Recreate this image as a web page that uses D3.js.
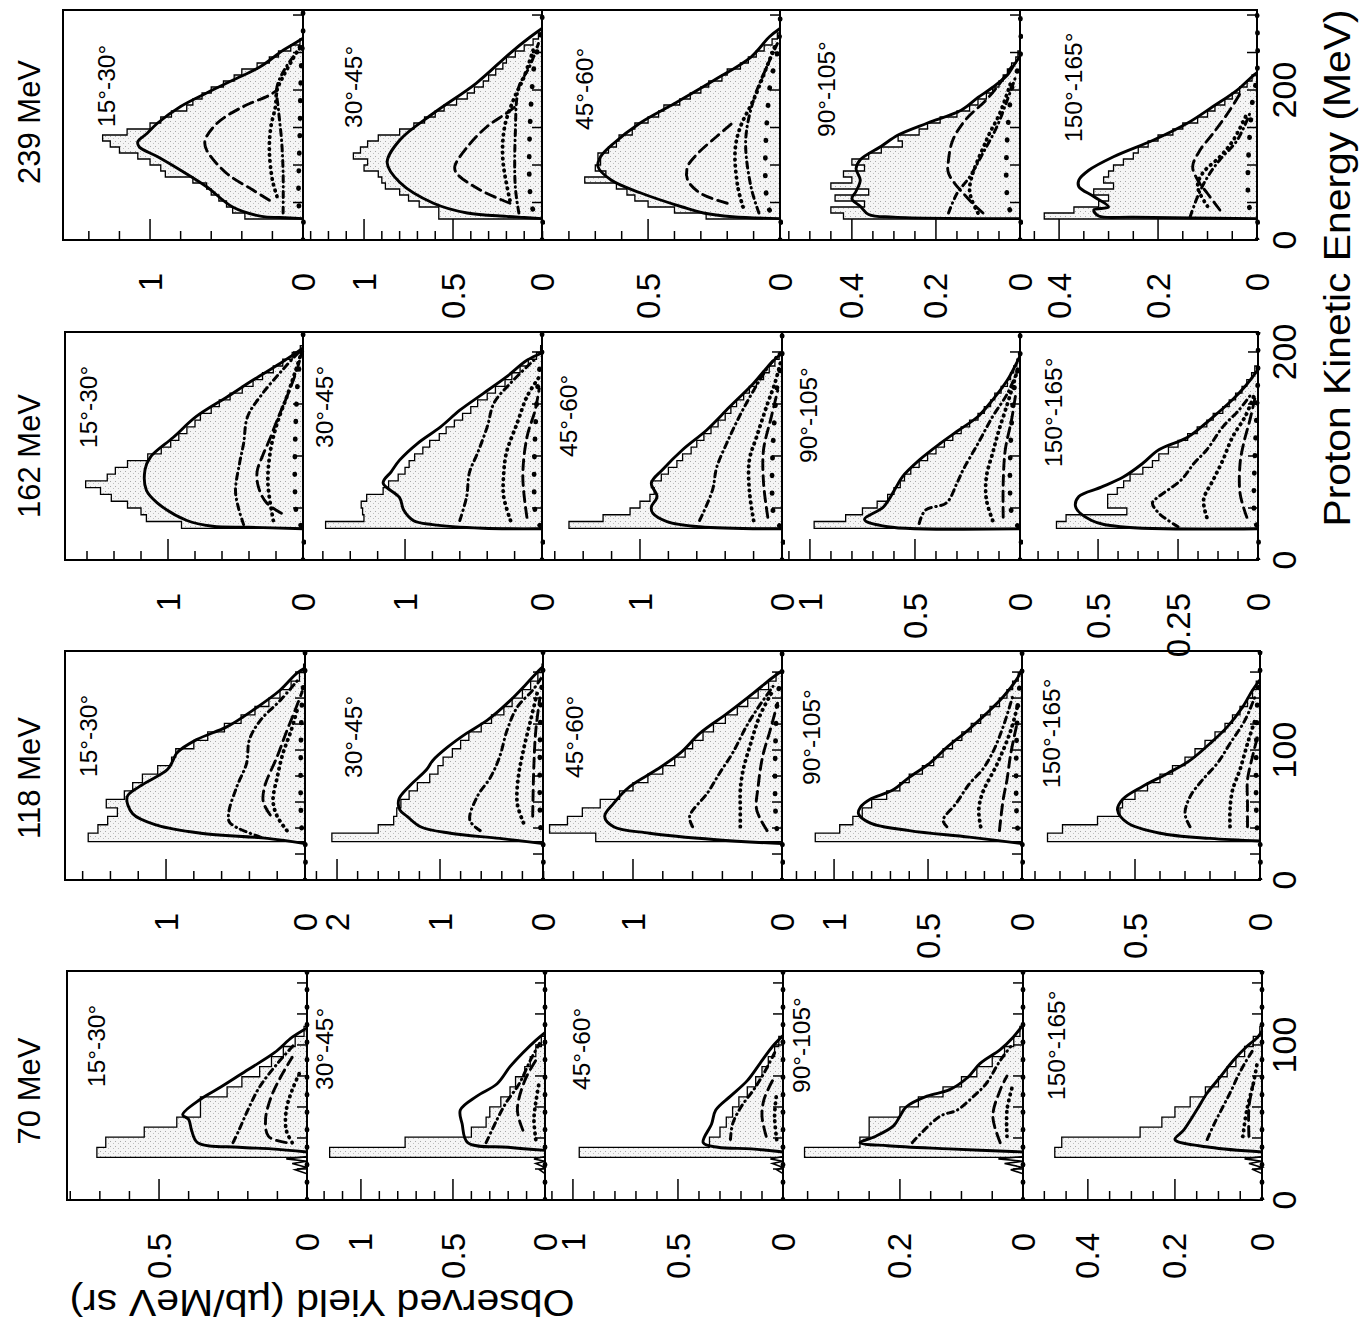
<!DOCTYPE html>
<html>
<head>
<meta charset="utf-8">
<script src="https://cdn.jsdelivr.net/npm/d3@7"></script>
<style>
  body { margin: 0; background: #fff; }
  svg { display: block; font-family: "Liberation Sans", Arial, sans-serif; }
</style>
</head>
<body>
<svg id="chart" width="1367" height="1324"></svg>
<script>
    // ---- data ----
    var beams = ['239 MeV', '162 MeV', '118 MeV', '70 MeV'];
    var angles = ['15°-30°', '30°-45°', '45°-60°', '90°-105°', '150°-165°'];

    // visible yield range of each panel (µb/MeV sr), its minor tick step and labelled ticks
    var yieldDomain = [
        [1.569, 1.343, 0.902, 0.571, 0.479],
        [1.763, 1.745, 1.69, 1.133, 0.744],
        [1.727, 2.311, 1.604, 1.277, 0.952],
        [0.811, 1.293, 1.133, 0.39, 0.549]
    ];
    var yieldStep = [
        [0.2, 0.1, 0.1, 0.05, 0.05],
        [0.2, 0.2, 0.2, 0.1, 0.0625],
        [0.2, 0.2, 0.2, 0.1, 0.1],
        [0.1, 0.1, 0.1, 0.05, 0.05]
    ];
    var yieldLabels = [
        [[1, 0], [1, 0.5, 0], [0.5, 0], [0.4, 0.2, 0], [0.4, 0.2, 0]],
        [[1, 0], [1, 0], [1, 0], [1, 0.5, 0], [0.5, 0.25, 0]],
        [[1, 0], [2, 1, 0], [1, 0], [1, 0.5, 0], [0.5, 0]],
        [[0.5, 0], [1, 0.5, 0], [1, 0.5, 0], [0.2, 0], [0.4, 0.2, 0]]
    ];

    // proton energy axis (MeV)
    var energyMax = [306.7, 219.2, 176.2, 147.7];
    var energyStep = [50, 50, 20, 20];
    var energyLabels = [[0, 200], [0, 200], [0, 100], [0, 100]];

    // histogram bins: first edge, width (MeV)
    var histStart = [28, 30.5, 29.5, 27.5];
    var histWidth = [8, 6.5, 6.5, 6.5];

    var hist239 = [
        [0.38, 0.46, 0.5, 0.55, 0.6, 0.63, 0.72, 0.9, 0.93, 1.0, 1.08, 1.2, 1.26, 1.31, 1.15, 1.0, 0.93, 0.86, 0.76, 0.72, 0.66, 0.6, 0.52, 0.45, 0.4, 0.3, 0.22, 0.16, 0.08, 0.02, 0],
        [0.58, 0.58, 0.69, 0.75, 0.8, 0.88, 0.9, 0.92, 1.0, 0.98, 1.06, 1.02, 0.98, 0.92, 0.8, 0.72, 0.66, 0.6, 0.55, 0.48, 0.42, 0.38, 0.33, 0.3, 0.26, 0.22, 0.2, 0.15, 0.1, 0.05, 0.02],
        [0.28, 0.4, 0.5, 0.55, 0.58, 0.62, 0.74, 0.66, 0.7, 0.68, 0.69, 0.65, 0.62, 0.61, 0.56, 0.55, 0.5, 0.46, 0.44, 0.38, 0.34, 0.3, 0.27, 0.22, 0.2, 0.15, 0.12, 0.09, 0.06, 0.03, 0.01],
        [0.42, 0.45, 0.37, 0.44, 0.36, 0.45, 0.4, 0.42, 0.37, 0.4, 0.36, 0.33, 0.28, 0.29, 0.24, 0.22, 0.19, 0.15, 0.12, 0.1, 0.08, 0.065, 0.05, 0.04, 0.03, 0.02, 0.01, 0.005, 0, 0, 0],
        [0.43, 0.37, 0.32, 0.3, 0.33, 0.29, 0.31, 0.3, 0.29, 0.27, 0.25, 0.24, 0.22, 0.2, 0.17, 0.15, 0.12, 0.1, 0.085, 0.065, 0.05, 0.035, 0.02, 0.01, 0, 0, 0, 0, 0, 0, 0]
    ];
    var total239 = [
        [[28.5, 0], [30, 0.15], [31.5, 0.27], [44, 0.46], [71, 0.63], [93, 0.8], [111, 0.95], [124, 1.07], [131, 1.08], [142, 1.02], [156, 0.95], [178, 0.8], [196, 0.63], [213, 0.46], [231, 0.28], [253, 0.13], [264, 0.04], [269, 0]],
        [[28.5, 0], [30, 0.1], [31.5, 0.2], [36, 0.42], [49, 0.61], [77, 0.8], [103, 0.87], [133, 0.8], [169, 0.61], [209, 0.37], [249, 0.18], [270, 0.07], [282, 0]],
        [[28.5, 0], [31, 0.18], [36, 0.29], [44, 0.37], [63, 0.53], [80, 0.64], [98, 0.69], [111, 0.68], [129, 0.63], [156, 0.53], [182, 0.4], [213, 0.25], [244, 0.11], [271, 0.04], [282, 0]],
        [[28.5, 0], [30.5, 0.3], [34, 0.36], [45, 0.38], [55, 0.4], [65, 0.39], [80, 0.38], [95, 0.39], [107, 0.38], [125, 0.33], [140, 0.29], [156, 0.22], [173, 0.14], [190, 0.1], [204, 0.064], [220, 0.03], [231, 0.017], [245, 0]],
        [[28.5, 0], [30.5, 0.25], [32, 0.32], [40, 0.33], [44, 0.3], [58, 0.33], [71, 0.36], [80, 0.36], [93, 0.34], [111, 0.29], [133, 0.21], [156, 0.14], [178, 0.089], [200, 0.04], [218, 0.01], [223, 0]]
    ];
    var dashed239 = [
        [[53, 0.22], [67, 0.33], [89, 0.5], [120, 0.63], [133, 0.64], [156, 0.56], [178, 0.39], [193, 0.22], [200, 0.17]],
        [[49, 0.18], [67, 0.35], [89, 0.48], [98, 0.49], [124, 0.42], [151, 0.31], [169, 0.2], [178, 0.15]],
        [[49, 0.2], [62, 0.3], [80, 0.35], [98, 0.35], [116, 0.31], [138, 0.24], [156, 0.18]],
        [[36, 0.088], [53, 0.12], [89, 0.17], [107, 0.17], [133, 0.16], [160, 0.13], [187, 0.08], [209, 0.048], [231, 0.02]],
        [[40, 0.075], [62, 0.1], [80, 0.12], [98, 0.13], [120, 0.115], [142, 0.089], [173, 0.055], [200, 0.03]]
    ];
    var dotdash239 = [
        [[36, 0.13], [89, 0.13], [133, 0.14], [173, 0.16], [204, 0.17], [231, 0.11], [258, 0.01]],
        [[36, 0.13], [71, 0.15], [142, 0.15], [204, 0.13], [231, 0.07], [262, 0.02]],
        [[36, 0.08], [71, 0.11], [133, 0.13], [187, 0.1], [231, 0.05], [262, 0.01]],
        [[36, 0.17], [62, 0.15], [84, 0.12], [116, 0.088], [151, 0.055], [187, 0.03], [218, 0.01]],
        [[31, 0.135], [58, 0.12], [84, 0.1], [107, 0.075], [133, 0.04], [173, 0.012]]
    ];
    var dotted239 = [
        [[58, 0.17], [80, 0.2], [120, 0.22], [151, 0.21], [178, 0.18], [200, 0.17], [218, 0.13], [240, 0.07], [258, 0.02]],
        [[53, 0.18], [107, 0.22], [151, 0.21], [187, 0.16], [218, 0.1], [253, 0.05]],
        [[44, 0.14], [71, 0.16], [120, 0.17], [151, 0.15], [187, 0.1], [222, 0.06], [258, 0.02]],
        [[36, 0.1], [67, 0.12], [133, 0.08], [169, 0.048], [213, 0.02]],
        [[45, 0.1], [71, 0.12], [89, 0.11], [111, 0.075], [133, 0.048], [169, 0.02]]
    ];
    var bigdot239 = [
        [[0, 0], [28, 0], [35, 0.02], [150, 0.02], [240, 0.01], [270, 0], [306, 0]],
        [[0, 0], [28, 0], [40, 0.05], [220, 0.05], [260, 0.02], [285, 0], [306, 0]],
        [[0, 0], [28, 0], [40, 0.04], [200, 0.04], [250, 0.01], [280, 0], [306, 0]],
        [[0, 0], [28, 0], [40, 0.024], [200, 0.02], [240, 0], [306, 0]],
        [[0, 0], [28, 0], [40, 0.014], [180, 0.01], [220, 0], [306, 0]]
    ];

    var hist162 = [
        [0.9, 1.16, 1.2, 1.3, 1.42, 1.5, 1.61, 1.45, 1.39, 1.3, 1.15, 1.05, 0.98, 0.92, 0.86, 0.8, 0.76, 0.68, 0.62, 0.54, 0.45, 0.37, 0.3, 0.22, 0.15, 0.08, 0.02],
        [1.58, 1.3, 1.31, 1.32, 1.28, 1.16, 1.12, 1.05, 1.0, 0.97, 0.93, 0.87, 0.82, 0.75, 0.7, 0.64, 0.58, 0.52, 0.47, 0.4, 0.34, 0.27, 0.22, 0.16, 0.1, 0.04, 0.01],
        [1.5, 1.26, 1.07, 1.0, 0.93, 0.9, 0.92, 0.85, 0.8, 0.74, 0.7, 0.64, 0.6, 0.55, 0.5, 0.45, 0.4, 0.36, 0.32, 0.27, 0.23, 0.18, 0.13, 0.09, 0.05, 0.02, 0],
        [0.98, 0.83, 0.75, 0.68, 0.63, 0.6, 0.57, 0.55, 0.52, 0.48, 0.44, 0.4, 0.36, 0.32, 0.28, 0.24, 0.2, 0.17, 0.14, 0.12, 0.09, 0.06, 0.045, 0.03, 0.015, 0.005, 0],
        [0.63, 0.6, 0.41, 0.47, 0.47, 0.44, 0.42, 0.4, 0.36, 0.33, 0.31, 0.28, 0.25, 0.22, 0.19, 0.16, 0.14, 0.11, 0.09, 0.07, 0.05, 0.035, 0.02, 0.01, 0, 0, 0]
    ];
    var total162 = [
        [[30, 0], [31.5, 0.4], [32.5, 0.67], [38, 0.86], [55, 1.08], [67, 1.16], [87, 1.17], [99, 1.13], [118, 0.96], [138, 0.79], [157, 0.56], [173, 0.37], [189, 0.17], [202, 0.02], [204, 0]],
        [[30, 0], [30.5, 0.43], [34, 0.8], [38, 0.94], [48, 1.01], [60, 1.04], [74, 1.16], [85, 1.1], [96, 1.04], [112, 0.91], [128, 0.74], [144, 0.6], [160, 0.43], [176, 0.26], [192, 0.11], [199, 0]],
        [[30, 0], [32, 0.58], [37, 0.81], [45, 0.91], [51, 0.92], [61, 0.88], [74, 0.92], [87, 0.84], [106, 0.7], [125, 0.53], [147, 0.37], [170, 0.2], [189, 0.08], [199, 0]],
        [[30, 0], [32, 0.63], [39, 0.74], [51, 0.65], [70, 0.59], [80, 0.56], [96, 0.48], [112, 0.38], [125, 0.29], [138, 0.2], [154, 0.13], [173, 0.06], [192, 0.01], [196, 0]],
        [[30, 0], [32, 0.43], [38, 0.52], [51, 0.57], [61, 0.56], [70, 0.49], [80, 0.42], [93, 0.36], [106, 0.31], [118, 0.22], [135, 0.15], [154, 0.08], [167, 0.04], [183, 0]]
    ];
    var dashed162 = [
        [[45, 0.16], [55, 0.27], [70, 0.33], [85, 0.34], [100, 0.3], [115, 0.25], [135, 0.19], [160, 0.11], [185, 0.04], [200, 0.01]],
        [[41, 0.11], [80, 0.14], [118, 0.11], [144, 0.05], [165, 0.02]],
        [[41, 0.1], [74, 0.13], [106, 0.13], [135, 0.08], [163, 0.03]],
        [[41, 0.08], [74, 0.08], [106, 0.07], [135, 0.04], [160, 0.02]],
        [[41, 0.035], [64, 0.056], [93, 0.056], [112, 0.045], [135, 0.025], [155, 0.01]]
    ];
    var dotdash162 = [
        [[34, 0.44], [51, 0.48], [67, 0.5], [93, 0.47], [112, 0.44], [138, 0.41], [160, 0.3], [183, 0.15], [200, 0.03]],
        [[38, 0.6], [61, 0.55], [84, 0.53], [103, 0.47], [128, 0.4], [151, 0.35], [170, 0.23], [192, 0.06]],
        [[38, 0.58], [67, 0.49], [89, 0.46], [112, 0.39], [138, 0.3], [163, 0.2], [187, 0.09], [198, 0.02]],
        [[35, 0.48], [48, 0.45], [55, 0.35], [74, 0.3], [87, 0.27], [112, 0.2], [138, 0.13], [160, 0.06], [183, 0.01]],
        [[32, 0.25], [45, 0.31], [55, 0.33], [61, 0.31], [77, 0.24], [93, 0.2], [106, 0.16], [128, 0.11], [144, 0.06], [160, 0.02]]
    ];
    var dotted162 = [
        [[38, 0.22], [74, 0.26], [106, 0.24], [132, 0.19], [157, 0.12], [180, 0.06], [200, 0.01]],
        [[38, 0.23], [61, 0.28], [82, 0.28], [103, 0.26], [132, 0.18], [157, 0.11], [176, 0.02]],
        [[38, 0.2], [67, 0.23], [96, 0.23], [118, 0.18], [151, 0.1], [170, 0.05], [190, 0.01]],
        [[38, 0.13], [58, 0.16], [80, 0.16], [103, 0.13], [125, 0.1], [150, 0.06], [170, 0.03], [188, 0.005]],
        [[41, 0.16], [58, 0.17], [77, 0.14], [96, 0.11], [118, 0.08], [138, 0.04], [160, 0.01]]
    ];
    var bigdot162 = [
        [[0, 0], [30, 0], [38, 0.04], [170, 0.04], [200, 0.01], [205, 0], [219, 0]],
        [[0, 0], [30, 0], [38, 0.04], [170, 0.03], [200, 0], [219, 0]],
        [[0, 0], [30, 0], [38, 0.05], [160, 0.04], [195, 0], [219, 0]],
        [[0, 0], [30, 0], [38, 0.033], [160, 0.03], [195, 0], [219, 0]],
        [[0, 0], [30, 0], [38, 0.01], [180, 0], [219, 0]]
    ];

    var hist118 = [
        [1.56, 1.49, 1.42, 1.35, 1.43, 1.3, 1.24, 1.17, 1.06, 0.96, 0.93, 0.8, 0.7, 0.58, 0.46, 0.36, 0.26, 0.18, 0.1, 0.04, 0.01],
        [2.05, 1.6, 1.45, 1.42, 1.38, 1.3, 1.22, 1.1, 1.02, 0.97, 0.88, 0.8, 0.72, 0.6, 0.5, 0.38, 0.3, 0.2, 0.12, 0.05, 0.01],
        [1.25, 1.56, 1.44, 1.34, 1.22, 1.09, 1.0, 0.9, 0.8, 0.72, 0.65, 0.6, 0.53, 0.46, 0.38, 0.3, 0.23, 0.16, 0.09, 0.04, 0],
        [1.1, 0.97, 0.9, 0.85, 0.8, 0.72, 0.65, 0.6, 0.53, 0.47, 0.42, 0.37, 0.32, 0.27, 0.22, 0.17, 0.12, 0.08, 0.05, 0.02, 0],
        [0.85, 0.79, 0.65, 0.56, 0.55, 0.5, 0.45, 0.4, 0.35, 0.3, 0.26, 0.22, 0.18, 0.14, 0.11, 0.08, 0.05, 0.03, 0.015, 0, 0]
    ];
    var total118 = [
        [[28, 0], [32, 0.27], [36, 0.75], [42, 1.06], [51, 1.24], [64, 1.28], [72, 1.19], [85, 0.99], [92, 0.95], [98, 0.92], [108, 0.78], [118, 0.56], [131, 0.37], [146, 0.18], [159, 0.06], [163, 0]],
        [[28, 0], [32, 0.42], [36, 0.9], [41, 1.19], [49, 1.32], [54, 1.39], [62, 1.4], [72, 1.3], [85, 1.13], [92, 1.07], [102, 0.93], [113, 0.74], [123, 0.54], [138, 0.32], [151, 0.16], [162, 0.03], [164, 0]],
        [[28, 0], [31, 0.44], [36, 0.89], [41, 1.13], [49, 1.19], [59, 1.13], [72, 1.02], [85, 0.84], [98, 0.68], [113, 0.55], [128, 0.37], [144, 0.19], [156, 0.06], [161, 0]],
        [[28, 0], [33, 0.28], [38, 0.6], [44, 0.81], [51, 0.87], [56, 0.86], [62, 0.81], [69, 0.69], [79, 0.6], [90, 0.49], [102, 0.4], [115, 0.29], [128, 0.19], [141, 0.1], [154, 0.03], [162, 0]],
        [[30, 0], [32, 0.2], [36, 0.4], [44, 0.53], [54, 0.57], [62, 0.55], [72, 0.47], [82, 0.37], [92, 0.28], [105, 0.2], [118, 0.13], [133, 0.07], [146, 0.03], [154, 0]]
    ];
    var dashed118 = [
        [[50, 0.25], [60, 0.3], [72, 0.29], [95, 0.2], [115, 0.13], [131, 0.07], [145, 0.02]],
        [[49, 0.1], [85, 0.09], [115, 0.07], [140, 0.03]],
        [[38, 0.1], [54, 0.17], [72, 0.16], [95, 0.13], [115, 0.08], [136, 0.03]],
        [[38, 0.12], [62, 0.1], [77, 0.08], [97, 0.06], [118, 0.03]],
        [[41, 0.05], [59, 0.05], [77, 0.05], [95, 0.03], [110, 0.01]]
    ];
    var dotdash118 = [
        [[33, 0.32], [44, 0.54], [51, 0.55], [72, 0.49], [90, 0.42], [108, 0.4], [123, 0.32], [138, 0.18], [154, 0.05]],
        [[38, 0.61], [46, 0.71], [64, 0.64], [79, 0.51], [95, 0.42], [115, 0.35], [133, 0.25], [146, 0.1], [155, 0.02]],
        [[41, 0.6], [49, 0.62], [67, 0.5], [82, 0.42], [98, 0.33], [118, 0.24], [131, 0.17], [149, 0.06]],
        [[41, 0.4], [46, 0.42], [59, 0.35], [74, 0.28], [85, 0.21], [100, 0.15], [118, 0.1], [141, 0.05]],
        [[41, 0.28], [51, 0.3], [64, 0.28], [77, 0.23], [90, 0.17], [105, 0.12], [123, 0.06], [141, 0.02]]
    ];
    var dotted118 = [
        [[38, 0.13], [49, 0.2], [61, 0.23], [79, 0.2], [97, 0.16], [115, 0.1], [133, 0.05]],
        [[44, 0.19], [59, 0.25], [79, 0.24], [100, 0.19], [123, 0.12], [146, 0.05]],
        [[41, 0.28], [56, 0.28], [69, 0.28], [85, 0.26], [105, 0.21], [126, 0.15], [144, 0.07]],
        [[41, 0.22], [54, 0.23], [67, 0.21], [90, 0.13], [115, 0.06], [136, 0.02]],
        [[41, 0.12], [54, 0.12], [69, 0.11], [85, 0.08], [105, 0.05], [123, 0.02]]
    ];
    var bigdot118 = [
        [[0, 0], [29, 0], [36, 0.02], [140, 0.02], [160, 0], [176, 0]],
        [[0, 0], [29, 0], [36, 0.02], [140, 0.02], [160, 0], [176, 0]],
        [[0, 0], [29, 0], [36, 0.03], [140, 0.03], [160, 0], [176, 0]],
        [[0, 0], [29, 0], [36, 0.02], [140, 0.02], [160, 0], [176, 0]],
        [[0, 0], [29, 0], [36, 0.01], [140, 0.01], [160, 0], [176, 0]]
    ];

    var hist70 = [
        [0.71, 0.68, 0.55, 0.44, 0.36, 0.36, 0.27, 0.22, 0.16, 0.12, 0.08, 0.04, 0.01],
        [1.17, 0.76, 0.4, 0.32, 0.3, 0.24, 0.19, 0.16, 0.11, 0.08, 0.05, 0.02, 0],
        [0.97, 0.35, 0.3, 0.27, 0.24, 0.21, 0.17, 0.13, 0.1, 0.07, 0.04, 0.02, 0],
        [0.355, 0.265, 0.25, 0.25, 0.2, 0.17, 0.13, 0.1, 0.075, 0.05, 0.03, 0.015, 0.005],
        [0.476, 0.46, 0.28, 0.23, 0.2, 0.165, 0.13, 0.1, 0.08, 0.06, 0.04, 0.02, 0.005]
    ];
    var total70 = [
        [[31, 0], [33, 0.12], [34, 0.23], [37, 0.37], [45, 0.39], [52, 0.4], [55, 0.42], [65, 0.36], [73, 0.29], [84, 0.2], [95, 0.11], [105, 0.05], [111, 0]],
        [[32, 0], [34, 0.2], [37, 0.42], [49, 0.45], [58, 0.46], [67, 0.37], [75, 0.26], [86, 0.19], [95, 0.12], [103, 0.05], [108, 0]],
        [[31, 0], [33, 0.15], [34, 0.31], [37, 0.38], [49, 0.34], [58, 0.32], [67, 0.25], [77, 0.17], [88, 0.11], [99, 0.05], [106, 0]],
        [[31, 0], [33, 0.12], [35, 0.22], [37, 0.265], [41, 0.24], [48, 0.21], [54, 0.2], [60, 0.19], [67, 0.156], [71, 0.12], [79, 0.09], [88, 0.07], [97, 0.037], [105, 0.016], [113, 0]],
        [[31, 0], [34, 0.12], [39, 0.2], [45, 0.18], [58, 0.15], [69, 0.126], [79, 0.097], [90, 0.066], [99, 0.035], [105, 0.01], [109, 0]]
    ];
    var dashed70 = [
        [[37, 0.07], [41, 0.13], [52, 0.14], [67, 0.12], [79, 0.09], [92, 0.05]],
        [[45, 0.12], [58, 0.15], [77, 0.11], [90, 0.05]],
        [[41, 0.08], [54, 0.1], [65, 0.09], [77, 0.05]],
        [[37, 0.037], [54, 0.049], [71, 0.037], [80, 0.026]],
        [[41, 0.03], [60, 0.03], [75, 0.02]]
    ];
    var dotdash70 = [
        [[37, 0.25], [45, 0.23], [58, 0.2], [73, 0.16], [88, 0.1], [101, 0.04]],
        [[37, 0.32], [52, 0.26], [63, 0.21], [75, 0.14], [90, 0.08], [101, 0.03]],
        [[39, 0.25], [49, 0.24], [60, 0.2], [71, 0.14], [82, 0.09], [95, 0.04]],
        [[37, 0.18], [54, 0.135], [58, 0.107], [67, 0.08], [75, 0.06], [90, 0.037], [99, 0.02]],
        [[39, 0.126], [49, 0.11], [60, 0.09], [71, 0.07], [79, 0.057], [88, 0.04], [97, 0.02]]
    ];
    var dotted70 = [
        [[37, 0.05], [45, 0.07], [58, 0.07], [71, 0.05], [84, 0.02]],
        [[39, 0.05], [52, 0.06], [63, 0.05], [77, 0.03]],
        [[39, 0.03], [54, 0.04], [69, 0.03]],
        [[41, 0.026], [58, 0.026], [75, 0.016]],
        [[41, 0.044], [58, 0.035], [75, 0.02], [90, 0.01]]
    ];
    var bigdot70 = [
        [[0, 0], [147, 0]], [[0, 0], [147, 0]], [[0, 0], [147, 0]], [[0, 0], [147, 0]], [[0, 0], [147, 0]]
    ];
    // little peaks below threshold at 70 MeV
    var spikes70 = [
        [[17, 0], [19.5, 0.04], [21, 0], [23.5, 0.05], [25, 0], [26.5, 0.07], [28, 0]],
        [[17, 0], [19.5, 0.03], [21, 0], [23.5, 0.05], [25, 0], [26.5, 0.06], [28, 0]],
        [[17, 0], [19.5, 0.03], [21, 0], [23.5, 0.05], [25, 0], [26.5, 0.06], [28, 0]],
        [[17, 0], [19.5, 0.02], [21, 0], [23.5, 0.03], [25, 0], [26.5, 0.04], [28, 0]],
        [[17, 0], [19.5, 0.02], [21, 0], [23.5, 0.03], [25, 0], [26.5, 0.04], [28, 0]]
    ];

    // ---- layout ----
    var rowTop = [10, 332, 651, 971];
    var rowBottom = [240, 560, 880, 1200];
    var panelEdges = [
        [63, 303, 542, 780, 1020, 1257],
        [65, 303, 542, 782, 1020, 1258],
        [65, 305, 543, 782, 1022, 1260],
        [67, 307, 545, 783, 1023, 1262]
    ];
    var beamLabelY = [122, 456, 778, 1091];
    // angle label baseline offset from panel left, start offset from row top
    var angleLabelPos = [
        [[52, 117], [59, 118], [51, 120], [55, 127], [62, 132]],
        [[32, 116], [30, 116], [35, 125], [35, 131], [42, 135]],
        [[32, 126], [57, 127], [40, 127], [38, 134], [38, 137]],
        [[38, 116], [26, 119], [45, 119], [27, 122], [42, 129]]
    ];

    var rows = [
        {hist: hist239, total: total239, dashed: dashed239, dotdash: dotdash239, dotted: dotted239, bigdot: bigdot239},
        {hist: hist162, total: total162, dashed: dashed162, dotdash: dotdash162, dotted: dotted162, bigdot: bigdot162},
        {hist: hist118, total: total118, dashed: dashed118, dotdash: dotdash118, dotted: dotted118, bigdot: bigdot118},
        {hist: hist70, total: total70, dashed: dashed70, dotdash: dotdash70, dotted: dotted70, bigdot: bigdot70, spikes: spikes70}
    ];

    var svg = d3.select('#chart');
    var defs = svg.append('defs');

    // light stipple used under the measured histograms
    var pat = defs.append('pattern')
        .attr('id', 'stipple')
        .attr('width', 5).attr('height', 5)
        .attr('patternUnits', 'userSpaceOnUse');
    pat.append('rect').attr('width', 5).attr('height', 5).attr('fill', '#f5f5f5');
    pat.append('rect').attr('x', 0).attr('y', 1).attr('width', 1).attr('height', 1).attr('fill', '#a8a8a8');
    pat.append('rect').attr('x', 3).attr('y', 3).attr('width', 1).attr('height', 1).attr('fill', '#c0c0c0');

    function histPoints(vals, start, width) {
        var pts = [[start, 0]];
        vals.forEach(function(v, i) {
            pts.push([start + i * width, v]);
            pts.push([start + (i + 1) * width, v]);
        });
        pts.push([start + vals.length * width, 0]);
        return pts;
    }

    var styles = {
        bigdot: {w: 4.8, dash: '0.5,17'},
        dotted: {w: 3.8, dash: '0.5,5.5'},
        dashed: {w: 2.9, dash: '10,6'},
        dotdash: {w: 3.0, dash: '6,4.5,0.5,4.5'},
        total: {w: 2.9, dash: null}
    };

    rows.forEach(function(row, r) {
        var top = rowTop[r], bottom = rowBottom[r];
        var edges = panelEdges[r];
        var y = d3.scaleLinear().domain([0, energyMax[r]]).range([bottom, top]);
        var g = svg.append('g').attr('class', 'row');

        angles.forEach(function(angle, p) {
            var left = edges[p], right = edges[p + 1];
            var x = d3.scaleLinear().domain([0, yieldDomain[r][p]]).range([right, left]);
            var clipId = 'clip-' + r + '-' + p;
            defs.append('clipPath').attr('id', clipId)
                .append('rect')
                .attr('x', left).attr('y', top)
                .attr('width', right - left + 3).attr('height', bottom - top);

            var line = d3.line()
                .x(function(d) { return x(d[1]); })
                .y(function(d) { return y(d[0]); });
            var smooth = d3.line()
                .x(function(d) { return x(d[1]); })
                .y(function(d) { return y(d[0]); })
                .curve(d3.curveCatmullRom.alpha(0.5));

            var pg = g.append('g').attr('clip-path', 'url(#' + clipId + ')');

            var hp = histPoints(row.hist[p], histStart[r], histWidth[r]);
            pg.append('path')
                .attr('d', line(hp) + 'Z')
                .attr('fill', 'url(#stipple)')
                .attr('stroke', 'none');
            pg.append('path')
                .attr('d', line(hp))
                .attr('fill', 'none')
                .attr('stroke', '#000')
                .attr('stroke-width', 1.3);

            ['bigdot', 'dotted', 'dashed', 'dotdash', 'total'].forEach(function(key) {
                var s = styles[key];
                pg.append('path')
                    .attr('d', smooth(row[key][p]))
                    .attr('fill', 'none')
                    .attr('stroke', '#000')
                    .attr('stroke-width', s.w)
                    .attr('stroke-linecap', s.dash ? 'round' : 'butt')
                    .attr('stroke-linejoin', 'round')
                    .attr('stroke-dasharray', s.dash);
            });

            if (row.spikes) {
                pg.append('path')
                    .attr('d', line(row.spikes[p]))
                    .attr('fill', 'none')
                    .attr('stroke', '#000')
                    .attr('stroke-width', 1.6);
            }

            // energy ticks on the zero line
            d3.range(energyStep[r], energyMax[r], energyStep[r]).forEach(function(e) {
                g.append('line')
                    .attr('x1', right).attr('x2', right - 10)
                    .attr('y1', y(e)).attr('y2', y(e))
                    .attr('stroke', '#000').attr('stroke-width', 1.5);
            });

            // yield ticks along the bottom edge
            var step = yieldStep[r][p];
            var nT = Math.floor(yieldDomain[r][p] / step + 1e-6);
            d3.range(1, nT + 1).forEach(function(i) {
                var v = i * step;
                var major = yieldLabels[r][p].some(function(l) { return Math.abs(l - v) < 1e-6; });
                g.append('line')
                    .attr('x1', x(v)).attr('x2', x(v))
                    .attr('y1', bottom).attr('y2', bottom - (major ? 21 : 9))
                    .attr('stroke', '#000').attr('stroke-width', 1.5);
            });

            yieldLabels[r][p].forEach(function(v) {
                g.append('text')
                    .attr('transform', 'translate(' + x(v) + ',' + (bottom + 33) + ') rotate(-90)')
                    .attr('text-anchor', 'end')
                    .attr('dy', '0.35em')
                    .attr('font-size', 33)
                    .text(String(v));
            });

            if (p < 4) {
                g.append('line')
                    .attr('x1', right).attr('x2', right)
                    .attr('y1', top).attr('y2', bottom)
                    .attr('stroke', '#000').attr('stroke-width', 2);
            }

            var lp = angleLabelPos[r][p];
            g.append('text')
                .attr('transform', 'translate(' + (left + lp[0]) + ',' + (top + lp[1]) + ') rotate(-90)')
                .attr('text-anchor', 'start')
                .attr('font-size', 24.5)
                .text(angle);
        });

        g.append('rect')
            .attr('x', edges[0]).attr('y', top)
            .attr('width', edges[5] - edges[0]).attr('height', bottom - top)
            .attr('fill', 'none').attr('stroke', '#000').attr('stroke-width', 2);

        energyLabels[r].forEach(function(e) {
            g.append('text')
                .attr('transform', 'translate(1296,' + y(e) + ') rotate(-90)')
                .attr('text-anchor', 'middle')
                .attr('font-size', 34)
                .text(String(e));
        });

        g.append('text')
            .attr('transform', 'translate(40,' + beamLabelY[r] + ') rotate(-90)')
            .attr('text-anchor', 'middle')
            .attr('font-size', 31)
            .text(beams[r]);
    });

    svg.append('text')
        .attr('transform', 'translate(1350,268) rotate(-90)')
        .attr('text-anchor', 'middle')
        .attr('font-size', 36)
        .attr('textLength', 517)
        .attr('lengthAdjust', 'spacingAndGlyphs')
        .text('Proton Kinetic Energy (MeV)');

    svg.append('text')
        .attr('transform', 'translate(322,1290) rotate(180)')
        .attr('text-anchor', 'middle')
        .attr('font-size', 36)
        .attr('textLength', 505)
        .attr('lengthAdjust', 'spacingAndGlyphs')
        .text('Observed Yield (µb/MeV sr)');
</script>
</body>
</html>
